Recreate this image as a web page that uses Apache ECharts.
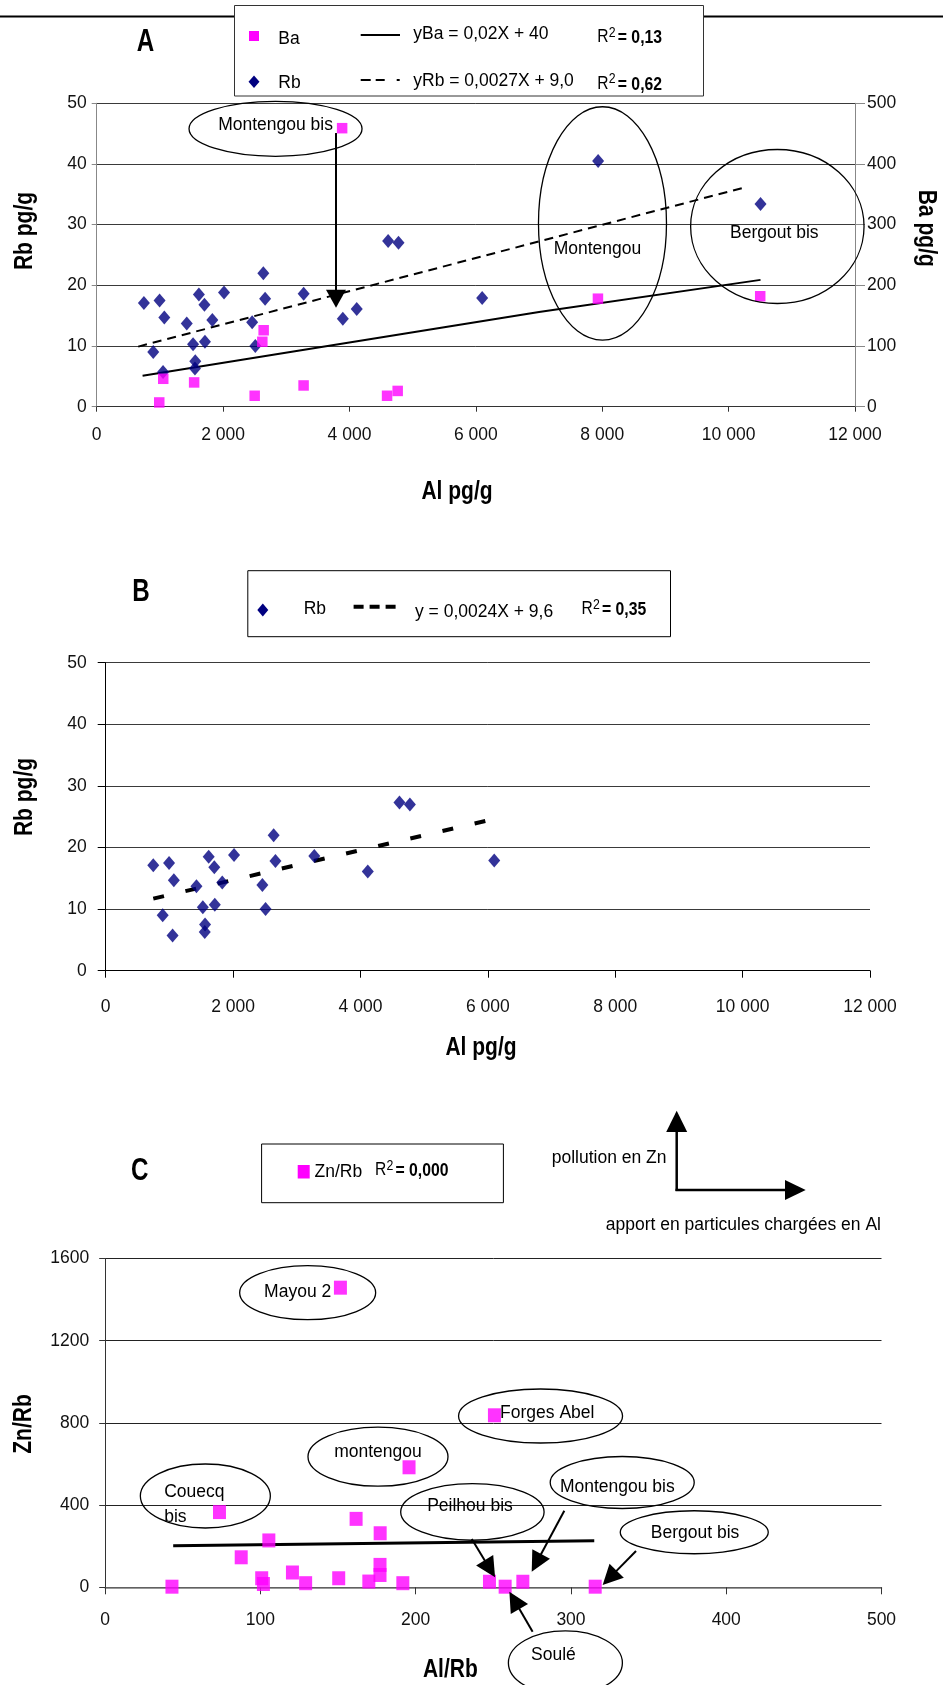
<!DOCTYPE html>
<html><head><meta charset="utf-8">
<script src="https://cdn.jsdelivr.net/npm/echarts@6/dist/echarts.min.js"></script>
<style>html,body{margin:0;padding:0;background:#fff}#c{width:943px;height:1685px}</style>
</head><body><div id="c"></div>
<script>
// ---------------- DATA ----------------
// Panel A : Rb (pg/g, left axis) and Ba (pg/g, right axis) versus Al (pg/g)
const alRbA = [747,995,1070,895,1050,1425,1525,1560,1555,1617,1705,1713,1830,2015,2460,2510,2637,2665,3275,3895,4115,4612,4776,6100,7935,10505];
const rbA   = [17.1,17.5,14.7,9.0,5.7,13.7,10.3,7.5,6.3,18.5,16.8,10.7,14.3,18.8,13.9,10.0,22.0,17.8,18.6,14.5,16.1,27.3,27.0,17.9,40.5,33.4];
const alBaA = [990,1053,1542,2500,2621,2642,3274,3884,4595,4763,7932,10500];
const baA   = [7,46,40,18,107,126,35,459,18,26,178,182];
// trend lines as drawn in panel A
const trendBaX = [726,7000,10505];
const trendBaY = [51,156,209];
const trendRbAX = [657,10240];
const trendRbAY = [9.9,36.1];
// Panel B : Rb versus Al without Montengou, Montengou bis, Bergout bis
const alRbB = [747,995,1070,895,1050,1425,1525,1560,1555,1617,1705,1713,1830,2015,2460,2510,2637,2665,3275,4115,4612,4776,6100];
const rbB   = [17.1,17.5,14.7,9.0,5.7,13.7,10.3,7.5,6.3,18.5,16.8,10.7,14.3,18.8,13.9,10.0,22.0,17.8,18.6,16.1,27.3,27.0,17.9];
const trendRbBX = [747,6080];
const trendRbBY = [11.7,24.6];
// Panel C : Zn/Rb versus Al/Rb
const alRbC = [43,73.6,87.6,100.8,101.9,105.4,120.6,129.1,150.4,151.5,161.6,169.8,177.1,177,177,191.7,195.7,247.5,250.7,257.6,269,315.6];
const znRbC = [3,366,146,44,16,228,72,20,44,1458,333,28,263,109,60,20,584,27,837,3,27,3];
const trendCX = [43.8,315];
const trendCY = [201.6,226];
// tick labels
const xLabelsPg = ['0','2 000','4 000','6 000','8 000','10 000','12 000'];
const yLabelsRb = ['0','10','20','30','40','50'];
const yLabelsBa = ['0','100','200','300','400','500'];
const xLabelsC = ['0','100','200','300','400','500'];
const yLabelsC = ['0','400','800','1200','1600'];

// ---------------- CHART ----------------
const FONT = 'Liberation Sans, Arial, Helvetica, sans-serif';
const chart = echarts.init(document.getElementById('c'), null, {renderer:'canvas'});
const pair = (xs, ys) => xs.map((x,i)=>[x, ys[i]]);
const lbl = (m, arr, step) => ({margin:m, fontSize:17.5, color:'#111', fontFamily:FONT,
  formatter: v => arr[Math.round(v/step)]});

const option = {
  animation:false,
  backgroundColor:'#fff',
  grid:[
    {left:96.7, top:103.3, width:758.3, height:303.4},
    {left:105.7, top:662.7, width:764.3, height:308},
    {left:105.2, top:1258.5, width:776.3, height:328.8}
  ],
  xAxis:[
    {gridIndex:0, type:'value', min:0, max:12000, interval:2000,
     axisLine:{show:true, lineStyle:{color:'#333', width:1}}, axisTick:{show:true, length:5, lineStyle:{color:'#333'}},
     splitLine:{show:false}, axisLabel:lbl(19, xLabelsPg, 2000)},
    {gridIndex:1, type:'value', min:0, max:12000, interval:2000,
     axisLine:{show:true, lineStyle:{color:'#000', width:1}}, axisTick:{show:true, length:7, lineStyle:{color:'#000'}},
     splitLine:{show:false}, axisLabel:lbl(27.5, xLabelsPg, 2000)},
    {gridIndex:2, type:'value', min:0, max:500, interval:100,
     axisLine:{show:true, lineStyle:{color:'#777', width:1.5}}, axisTick:{show:true, length:7, lineStyle:{color:'#333'}},
     splitLine:{show:false}, axisLabel:lbl(23.5, xLabelsC, 100)}
  ],
  yAxis:[
    {gridIndex:0, type:'value', position:'left', min:0, max:50, interval:10,
     axisLine:{show:true, lineStyle:{color:'#888'}}, axisTick:{show:true, length:5, lineStyle:{color:'#888'}},
     splitLine:{show:true, lineStyle:{color:'#3a3a3a', width:1}}, axisLabel:lbl(10, yLabelsRb, 10)},
    {gridIndex:0, type:'value', position:'right', min:0, max:500, interval:100,
     axisLine:{show:true, lineStyle:{color:'#888'}}, axisTick:{show:true, length:10, lineStyle:{color:'#888'}},
     splitLine:{show:false}, axisLabel:lbl(12, yLabelsBa, 100)},
    {gridIndex:1, type:'value', min:0, max:50, interval:10,
     axisLine:{show:true, lineStyle:{color:'#000'}}, axisTick:{show:true, length:8, lineStyle:{color:'#000'}},
     splitLine:{show:true, lineStyle:{color:'#3a3a3a', width:1}}, axisLabel:lbl(19, yLabelsRb, 10)},
    {gridIndex:2, type:'value', min:0, max:1600, interval:400,
     axisLine:{show:true, lineStyle:{color:'#333'}}, axisTick:{show:true, length:6, lineStyle:{color:'#333'}},
     splitLine:{show:true, lineStyle:{color:'#222', width:1}}, axisLabel:lbl(16, yLabelsC, 400)}
  ],
  series:[
    {name:'yBa', type:'line', xAxisIndex:0, yAxisIndex:1, data:pair(trendBaX, trendBaY), symbol:'none',
     lineStyle:{color:'#000', width:2}, z:3},
    {name:'yRb', type:'line', xAxisIndex:0, yAxisIndex:0, data:pair(trendRbAX, trendRbAY), symbol:'none',
     lineStyle:{color:'#000', width:2, type:[9,6]}, z:3},
    {name:'Rb', type:'scatter', xAxisIndex:0, yAxisIndex:0, data:pair(alRbA, rbA), symbol:'diamond',
     symbolSize:[12,14], itemStyle:{color:'#000080'}, z:4},
    {name:'Ba', type:'scatter', xAxisIndex:0, yAxisIndex:1, data:pair(alBaA, baA), symbol:'rect',
     symbolSize:10.5, itemStyle:{color:'#ff00ff'}, z:4},
    {name:'yB', type:'line', xAxisIndex:1, yAxisIndex:2, data:pair(trendRbBX, trendRbBY), symbol:'none',
     lineStyle:{color:'#000', width:4, type:[11,22]}, z:3},
    {name:'RbB', type:'scatter', xAxisIndex:1, yAxisIndex:2, data:pair(alRbB, rbB), symbol:'diamond',
     symbolSize:[12,14], itemStyle:{color:'#000080'}, z:4},
    {name:'yC', type:'line', xAxisIndex:2, yAxisIndex:3, data:pair(trendCX, trendCY), symbol:'none',
     lineStyle:{color:'#000', width:3}, z:3},
    {name:'Zn/Rb', type:'scatter', xAxisIndex:2, yAxisIndex:3, data:pair(alRbC, znRbC), symbol:'rect',
     symbolSize:[13,14], itemStyle:{color:'#ff00ff'}, z:4}
  ]
};
chart.setOption(option);

// ---------------- ANNOTATIONS ----------------
const finders = [{xAxisIndex:0, yAxisIndex:0},{xAxisIndex:1, yAxisIndex:2},{xAxisIndex:2, yAxisIndex:3}];
const P = (g, x, y) => chart.convertToPixel(finders[g], [x, y]);
const G = [];
function txt(x, y, s, o){ o = o||{};
  G.push({type:'text', x:x, y:y, rotation:o.rot||0, scaleX:o.sx||1, z:50,
    style:{text:s, fontSize:o.fs||17.5, fontFamily:FONT, fontWeight:o.fw||'normal', fill:'#000',
      align:o.al||'left', verticalAlign:'middle'}});
}
function ell(cx, cy, rx, ry){ G.push({type:'ellipse', z:40, shape:{cx:cx, cy:cy, rx:rx, ry:ry}, style:{fill:null, stroke:'#000', lineWidth:1.3}}); }
function line(x1,y1,x2,y2,lw,dash){ G.push({type:'line', z:40, shape:{x1:x1,y1:y1,x2:x2,y2:y2}, style:{stroke:'#000', lineWidth:lw, lineDash:dash||null}}); }
function arrow(p1, p2, hl, hw, lw){
  const dx=p2[0]-p1[0], dy=p2[1]-p1[1], L=Math.hypot(dx,dy), ux=dx/L, uy=dy/L;
  const bx=p2[0]-ux*hl, by=p2[1]-uy*hl, px=-uy, py=ux;
  line(p1[0],p1[1],bx+ux*2,by+uy*2,lw);
  G.push({type:'polygon', z:41, shape:{points:[[p2[0],p2[1]],[bx+px*hw/2,by+py*hw/2],[bx-px*hw/2,by-py*hw/2]]}, style:{fill:'#000'}});
}
// "R2= value" with raised 2 (R and 2 condensed like the original)
function rsq(x, y, val){
  txt(x, y, 'R', {fs:19, sx:0.82});
  txt(x+11.5, y-4, '2', {fs:15, sx:0.82});
  txt(x+20.5, y+1.5, val, {fw:'bold', sx:0.9});
}

// page rule and panel letters
G.push({type:'line', z:1, shape:{x1:0,y1:16.5,x2:943,y2:16.5}, style:{stroke:'#000', lineWidth:2}});
const L = {fs:31, fw:'bold', sx:0.78, al:'center'};
txt(145.5, 42, 'A', L);
txt(141, 592, 'B', L);
txt(139.8, 1171, 'C', L);

// legend A
G.push({type:'rect', z:30, shape:{x:234.5,y:5.5,width:469,height:90.5}, style:{fill:'#fff', stroke:'#333', lineWidth:1}});
G.push({type:'rect', z:45, shape:{x:249,y:31,width:10,height:10}, style:{fill:'#ff00ff'}});
txt(278.3, 39.3, 'Ba');
line(360.7,35,400,35,2);
txt(413.3, 34.5, 'yBa = 0,02X + 40');
rsq(597.3, 37, '= 0,13');
G.push({type:'polygon', z:45, shape:{points:[[254,75.5],[259.5,81.7],[254,88],[248.5,81.7]]}, style:{fill:'#000080'}});
txt(278.3, 83.3, 'Rb');
line(360.7,80,400,80,2,[10,5,9,12,3,30]);
txt(413.3, 81, 'yRb = 0,0027X + 9,0');
rsq(597.3, 83.3, '= 0,62');

// legend B
G.push({type:'rect', z:30, shape:{x:247.8,y:570.7,width:422.7,height:66}, style:{fill:'#fff', stroke:'#000', lineWidth:1}});
G.push({type:'polygon', z:45, shape:{points:[[262.8,603.5],[268.3,610],[262.8,616.5],[257.3,610]]}, style:{fill:'#000080'}});
txt(303.7, 609, 'Rb');
line(353.6,606.7,398.1,606.7,4,[10,6]);
txt(415, 611.7, 'y = 0,0024X + 9,6');
rsq(581.5, 609, '= 0,35');

// legend C
G.push({type:'rect', z:30, shape:{x:261.6,y:1144,width:241.8,height:58.7}, style:{fill:'#fff', stroke:'#000', lineWidth:1}});
G.push({type:'rect', z:45, shape:{x:297.7,y:1165,width:12,height:13.5}, style:{fill:'#ff00ff'}});
txt(314.5, 1171.7, 'Zn/Rb');
rsq(375, 1170, '= 0,000');

// axis titles (bold, condensed)
const tt = {fs:25, fw:'bold', sx:0.84, al:'center'};
txt(457, 492.5, 'Al pg/g', tt);
txt(25, 231, 'Rb pg/g', Object.assign({rot:Math.PI/2}, tt));
txt(925.5, 228.3, 'Ba pg/g', Object.assign({rot:-Math.PI/2}, tt));
txt(481, 1048, 'Al pg/g', tt);
txt(25, 797, 'Rb pg/g', Object.assign({rot:Math.PI/2}, tt));
txt(450.3, 1670, 'Al/Rb', tt);
txt(24, 1424, 'Zn/Rb', Object.assign({rot:Math.PI/2}, tt));

// panel A annotations (anchored in data units of left axis)
const notesA = [
  {at:[2830,45.8], rx:86.5, ry:27.5, t:'Montengou bis', dx:0, dy:-4},
  {at:[8004,30.2], rx:64, ry:116.7, t:'Montengou', dx:-5, dy:26},
  {at:[10771,29.7], rx:86.7, ry:77, t:'Bergout bis', dx:-3, dy:7}
];
notesA.forEach(n => { const c = P(0, n.at[0], n.at[1]); ell(c[0], c[1], n.rx, n.ry); txt(c[0]+n.dx, c[1]+n.dy, n.t, {al:'center'}); });
arrow(P(0,3787,45.1), P(0,3787,16.3), 18, 20, 2);

// panel C annotations
const notesC = [
  {at:[130.4,1433.6], rx:68, ry:27, t:'Mayou 2', dx:-10, dy:-1},
  {at:[280.4,833.6], rx:82, ry:27, t:'Forges Abel', dx:6.7, dy:-2.7},
  {at:[175.7,635.5], rx:70, ry:29.5, t:'montengou', dx:0, dy:-5},
  {at:[236.5,366.6], rx:71.7, ry:28.3, t:'Peilhou bis', dx:-2.4, dy:-5.6},
  {at:[333,510], rx:72, ry:26, t:'Montengou bis', dx:-4.9, dy:4.2},
  {at:[379.4,268], rx:74, ry:21.5, t:'Bergout bis', dx:0.8, dy:0.5},
  {at:[296.4,-368], rx:57, ry:32, t:'Soulé', dx:-12, dy:-8}
];
notesC.forEach(n => { const c = P(2, n.at[0], n.at[1]); ell(c[0], c[1], n.rx, n.ry); txt(c[0]+n.dx, c[1]+n.dy, n.t, {al:'center'}); });
(function(){ const c = P(2, 64.5, 444.3); ell(c[0], c[1], 65, 32);
  txt(c[0]-41.2, c[1]-4.3, 'Couecq'); txt(c[0]-41.2, c[1]+21.5, 'bis'); })();
const arrowsC = [
  [[236.1,235.0],[251.1,48.7]],
  [[295.7,372.7],[274.7,75.9]],
  [[341.9,176.6],[320.4,11.2]],
  [[275.3,-216],[260.3,-21.4]]
];
arrowsC.forEach(a => arrow(P(2,a[0][0],a[0][1]), P(2,a[1][0],a[1][1]), 20, 20, 2));

// explanatory axes (top right of panel C)
txt(551.7, 1158.3, 'pollution en Zn');
line(676.7, 1191, 676.7, 1130, 2.5);
G.push({type:'polygon', z:41, shape:{points:[[676.7,1110.7],[687.2,1132],[666.2,1132]]}, style:{fill:'#000'}});
line(675.5, 1190, 786, 1190, 2.5);
G.push({type:'polygon', z:41, shape:{points:[[805.7,1190],[785,1180],[785,1200]]}, style:{fill:'#000'}});
txt(605.7, 1225, 'apport en particules chargées en Al');

chart.setOption({graphic:{elements:G}});
</script></body></html>
